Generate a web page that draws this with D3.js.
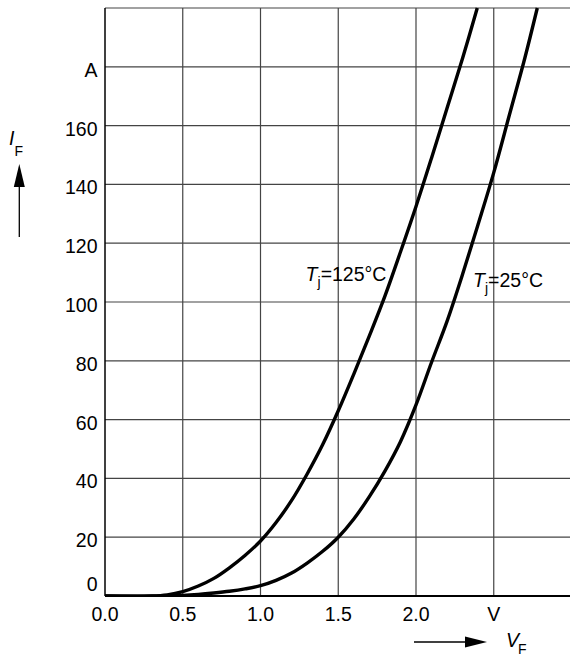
<!DOCTYPE html>
<html>
<head>
<meta charset="utf-8">
<script src="https://cdn.jsdelivr.net/npm/d3@7"></script>
<style>
  body { margin: 0; background: #fff; }
  text { font-family: "Liberation Sans", Arial, sans-serif; fill: #000; }
</style>
</head>
<body>
<div id="chart"></div>
<script>

// forward voltage (V) and forward current (A)
var vf125 = [0, 0.3, 0.4, 0.5, 0.6, 0.7, 0.8, 0.9, 1.0, 1.1, 1.2, 1.3, 1.4, 1.5, 1.6, 1.7, 1.8, 1.9, 2.0, 2.1, 2.2, 2.3, 2.394];
var if125 = [0, 0, 0.4, 1.5, 3.4, 6.0, 9.6, 13.8, 18.7, 25, 32.5, 41.5, 51.5, 63, 75.5, 88.5, 102, 117, 132.5, 149, 166, 183, 200];

var vf25 = [0, 0.4, 0.5, 0.6, 0.7, 0.8, 0.9, 1.0, 1.1, 1.2, 1.3, 1.4, 1.5, 1.6, 1.7, 1.8, 1.9, 2.0, 2.1, 2.2, 2.3, 2.4, 2.5, 2.6, 2.7, 2.78];
var if25 = [0, 0, 0.15, 0.5, 1.0, 1.6, 2.4, 3.5, 5.3, 7.8, 11.2, 15.2, 20, 26.2, 33.8, 42.5, 52.5, 65, 79.5, 93.5, 109.5, 126.5, 144, 163.5, 183, 200];

var xTicks = [0, 0.5, 1.0, 1.5, 2.0, 2.5];
var xTickLabels = ["0.0", "0.5", "1.0", "1.5", "2.0", "V"];
var yTicks = [0, 20, 40, 60, 80, 100, 120, 140, 160, 180];
var yTickLabels = ["0", "20", "40", "60", "80", "100", "120", "140", "160", "A"];

var curveLabels = [
  {name: "125°C", v: 1.29, i: 107},
  {name: "25°C", v: 2.367, i: 105}
];

var width = 570, height = 657;
var plotLeft = 105, plotTop = 8, plotRight = 571.5, plotBottom = 596;

var x = d3.scaleLinear().domain([0, 3]).range([plotLeft, plotRight]);
var y = d3.scaleLinear().domain([0, 200]).range([plotBottom, plotTop]);

var svg = d3.select("#chart").append("svg")
    .attr("width", width)
    .attr("height", height);

// grid
svg.append("g").selectAll("line")
    .data(xTicks.slice(1))
    .enter().append("line")
    .attr("x1", function(d) { return x(d); })
    .attr("x2", function(d) { return x(d); })
    .attr("y1", plotTop)
    .attr("y2", plotBottom)
    .attr("stroke", "#444")
    .attr("stroke-width", 1.2);

svg.append("g").selectAll("line")
    .data(yTicks.slice(1).concat([200]))
    .enter().append("line")
    .attr("x1", plotLeft)
    .attr("x2", width)
    .attr("y1", function(d) { return y(d); })
    .attr("y2", function(d) { return y(d); })
    .attr("stroke", "#444")
    .attr("stroke-width", 1.2);

// axes lines
svg.append("line")
    .attr("x1", plotLeft).attr("x2", plotLeft)
    .attr("y1", plotTop).attr("y2", plotBottom)
    .attr("stroke", "#000").attr("stroke-width", 1.5);
svg.append("line")
    .attr("x1", plotLeft).attr("x2", width)
    .attr("y1", plotBottom).attr("y2", plotBottom)
    .attr("stroke", "#000").attr("stroke-width", 2);

// tick labels
svg.append("g").selectAll("text")
    .data(yTicks)
    .enter().append("text")
    .attr("x", 97.5)
    .attr("y", function(d) { return d == 0 ? y(d) - 5 : y(d) + 10; })
    .attr("text-anchor", "end")
    .attr("font-size", 19.5)
    .text(function(d, i) { return yTickLabels[i]; });

svg.append("g").selectAll("text")
    .data(xTicks)
    .enter().append("text")
    .attr("x", function(d) { return x(d); })
    .attr("y", 621)
    .attr("text-anchor", "middle")
    .attr("font-size", 19.5)
    .text(function(d, i) { return xTickLabels[i]; });

// curves
svg.append("clipPath").attr("id", "plotClip")
  .append("rect")
    .attr("x", plotLeft).attr("y", plotTop - 1)
    .attr("width", plotRight - plotLeft).attr("height", plotBottom - plotTop + 2);

var line = d3.line()
    .x(function(d) { return x(d[0]); })
    .y(function(d) { return y(d[1]); })
    .curve(d3.curveCatmullRom.alpha(0.5));

var series = [d3.zip(vf125, if125), d3.zip(vf25, if25)];

svg.append("g").attr("clip-path", "url(#plotClip)")
  .selectAll("path")
    .data(series)
    .enter().append("path")
    .attr("d", line)
    .attr("fill", "none")
    .attr("stroke", "#000")
    .attr("stroke-width", 3.4)
    .attr("stroke-linejoin", "round");

// curve labels  T_j=...
curveLabels.forEach(function(c) {
  var t = svg.append("text")
      .attr("x", x(c.v))
      .attr("y", y(c.i))
      .attr("font-size", 19.5);
  t.append("tspan").attr("font-style", "italic").text("T");
  t.append("tspan").attr("font-size", 14).attr("dy", 6).text("j");
  t.append("tspan").attr("dy", -6).text("=" + c.name);
});

// y axis title with arrow
var iF = svg.append("text").attr("x", 9).attr("y", 145).attr("font-size", 19.5);
iF.append("tspan").attr("font-style", "italic").text("I");
iF.append("tspan").attr("font-size", 14).attr("dy", 11).text("F");

svg.append("line")
    .attr("x1", 19.3).attr("x2", 19.3)
    .attr("y1", 237).attr("y2", 185)
    .attr("stroke", "#000").attr("stroke-width", 1.3);
svg.append("path")
    .attr("d", "M19.3,164 L13.8,187 L24.8,187 Z")
    .attr("fill", "#000");

// x axis title with arrow
svg.append("line")
    .attr("x1", 414).attr("x2", 467)
    .attr("y1", 642).attr("y2", 642)
    .attr("stroke", "#000").attr("stroke-width", 1.3);
svg.append("path")
    .attr("d", "M487,642 L465,636.5 L465,647.5 Z")
    .attr("fill", "#000");

var vF = svg.append("text").attr("x", 506).attr("y", 646.5).attr("font-size", 19.5);
vF.append("tspan").attr("font-style", "italic").text("V");
vF.append("tspan").attr("font-size", 14).attr("dy", 7.5).attr("dx", -1).text("F");

</script>
</body>
</html>
